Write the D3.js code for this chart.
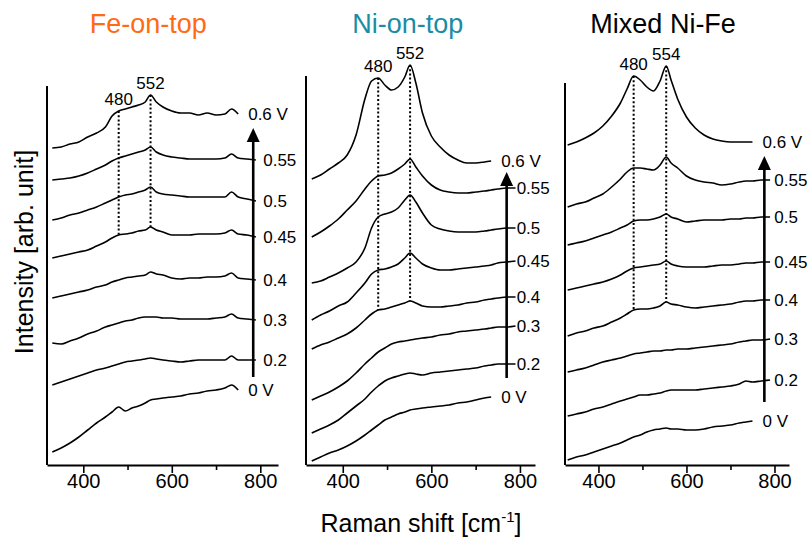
<!DOCTYPE html>
<html>
<head>
<meta charset="utf-8">
<script src="https://cdn.jsdelivr.net/npm/d3@7"></script>
<style>
  body { margin: 0; background: #fff; }
  svg { display: block; }
  text { font-family: "Liberation Sans", Arial, sans-serif; fill: #000; }
</style>
</head>
<body>
<svg id="chart" width="811" height="538"></svg>
<script>
// ---- data -------------------------------------------------------------
// Raman shift sampling points (cm^-1)
const shiftFe  = [330,350,370,390,410,430,450,465,480,495,510,525,540,552,565,580,600,620,640,660,680,700,720,735,750,770,790];
const shiftNi  = [330,350,370,390,410,430,450,465,480,495,510,525,540,552,565,580,600,620,640,660,680,700,720,735,750,770,790];
const shiftMix = [330,350,370,390,410,430,450,465,480,495,510,525,540,554,565,580,600,620,640,660,680,700,720,735,750,770,790];

// applied potential of each spectrum, top to bottom
const potentials = ["0.6 V", "0.55", "0.5", "0.45", "0.4", "0.3", "0.2", "0 V"];

const sampleNames = ["Fe-on-top", "Ni-on-top", "Mixed Ni-Fe"];

// band positions marked on each sample (cm^-1)
const peaksFe  = [480, 552];
const peaksNi  = [480, 552];
const peaksMix = [480, 554];

// stacked intensities (arb. unit), one row per potential, top to bottom
const feOnTop = [
  [317,318,321,323,328,332,338,349,354,356,358,360,363,370,363,358,354,352,352,350,352,350,351,356,351,null,null],
  [285,286,287,289,292,296,300,304,307,309,311,313,315,318,313,310,308,307,306,306,306,306,307,311,307,306,305],
  [245,247,250,252,255,258,262,265,268,270,271,273,275,278,273,271,270,269,268,268,268,268,268,273,268,266,264],
  [207,209,211,213,215,219,223,227,230,231,232,234,235,238,235,233,230,230,230,231,231,231,232,235,231,230,228],
  [167,169,171,173,175,178,180,183,185,187,188,189,190,193,191,190,187,186,187,187,188,188,189,192,187,186,185],
  [122,121,124,127,131,134,138,140,142,144,145,147,148,148,148,147,147,146,146,146,146,147,148,151,147,146,145],
  [80,83,86,89,92,95,97,99,101,103,104,105,106,107,106,105,104,103,104,105,105,105,105,109,105,105,105],
  [13,17,22,28,35,42,48,53,58,54,57,59,62,65,66,67,68,69,71,72,74,75,77,80,75,null,null]
];

const niOnTop = [
  [286,290,296,302,310,330,366,384,387,380,375,378,388,400,382,352,329,318,310,305,302,302,303,304,null,null,null],
  [228,233,239,246,255,264,276,284,289,290,292,296,301,306,298,289,280,275,273,272,272,273,274,275,276,277,277],
  [182,184,188,192,197,203,217,237,248,251,253,257,265,270,263,252,240,236,234,233,233,233,234,235,236,237,237],
  [145,150,154,159,163,172,182,191,195,196,198,201,207,212,207,201,197,195,195,196,197,198,199,200,202,203,204],
  [116,120,123,127,131,137,145,151,155,156,158,160,162,164,162,159,158,158,159,160,162,163,165,166,167,168,168],
  [65,69,73,78,84,92,101,107,113,117,121,123,124,125,126,127,128,130,131,133,134,135,136,137,138,138,139],
  [32,36,40,45,52,59,66,73,79,84,87,89,91,92,91,90,92,93,94,95,96,97,99,100,101,101,101],
  [4,8,12,15,19,24,30,35,40,45,48,51,53,55,56,57,58,59,60,62,63,65,67,68,null,null,null]
];

const mixedNiFe = [
  [320,323,327,332,339,349,362,376,389,385,378,374,384,399,385,366,348,337,330,326,324,323,323,323,323,null,null],
  [258,261,263,267,271,278,286,293,297,297,296,295,300,308,302,297,289,285,283,282,280,281,283,284,284,285,285],
  [220,222,224,227,230,233,237,240,244,245,245,246,248,251,248,246,243,244,245,245,245,246,246,247,247,248,248],
  [175,177,179,181,183,186,190,194,197,198,199,200,201,204,201,199,198,198,198,199,200,200,201,202,202,203,203],
  [129,132,134,137,139,143,147,151,155,156,156,157,159,163,161,160,158,157,158,159,160,161,163,164,164,165,165],
  [93,95,97,100,103,105,107,109,111,112,113,114,114,115,115,116,116,117,118,119,120,121,123,124,125,125,126],
  [49,51,53,56,58,61,64,66,68,70,70,71,72,74,75,75,75,75,76,77,78,79,81,84,83,84,85],
  [5,8,10,13,16,19,22,25,28,30,33,35,36,37,36,36,35,35,36,38,39,40,42,43,44,null,null]
];

const majorTicks = [400, 600, 800];
const minorTicks = [500, 700];

// ---- layout -----------------------------------------------------------
const svg = d3.select("#chart");
const y = d3.scaleLinear().domain([0, 400]).range([465, 65]);

const panels = [
  { name: sampleNames[0], color: "#FF6A13", shifts: shiftFe,  spectra: feOnTop,   peaks: peaksFe,
    domain: [318, 840], range: [47, 278],  axisTop: 379, arrow: { at: 784, from: 88, to: 337 }, dropTo: 3 },
  { name: sampleNames[1], color: "#1A8CA6", shifts: shiftNi,  spectra: niOnTop,   peaks: peaksNi,
    domain: [317, 834], range: [306, 535], axisTop: 389, arrow: { at: 770, from: 87, to: 293 }, dropTo: 4 },
  { name: sampleNames[2], color: "#000000", shifts: shiftMix, spectra: mixedNiFe, peaks: peaksMix,
    domain: [324, 833], range: [565, 789], axisTop: 382, arrow: { at: 777, from: 63, to: 309 }, dropTo: 4 }
];

panels.forEach(p => {
  const x = d3.scaleLinear().domain(p.domain).range(p.range);
  const g = svg.append("g");

  // title
  g.append("text")
    .attr("x", x(547)).attr("y", 33)
    .attr("text-anchor", "middle")
    .attr("font-size", 27)
    .style("fill", p.color)
    .text(p.name);

  // y axis line
  g.append("line")
    .attr("x1", p.range[0]).attr("x2", p.range[0])
    .attr("y1", y(0)).attr("y2", y(p.axisTop))
    .attr("stroke", "#000").attr("stroke-width", 2);

  // x axis: major ticks with labels, minor ticks without
  const major = d3.axisBottom(x).tickValues(majorTicks).tickSize(8).tickSizeOuter(0).tickPadding(1);
  const minor = d3.axisBottom(x).tickValues(minorTicks).tickSize(5).tickSizeOuter(0).tickFormat("");
  const ax = g.append("g").attr("transform", `translate(0,${y(0)})`).call(major);
  ax.select(".domain").attr("stroke-width", 2);
  ax.selectAll(".tick line").attr("stroke-width", 1.6);
  ax.selectAll(".tick text").attr("font-size", 20).attr("font-family", null);
  const axm = g.append("g").attr("transform", `translate(0,${y(0)})`).call(minor);
  axm.select(".domain").remove();
  axm.selectAll(".tick line").attr("stroke-width", 1.6);

  // spectra
  const line = d3.line()
    .defined(d => d[1] !== null)
    .x(d => x(d[0]))
    .y(d => y(d[1]))
    .curve(d3.curveMonotoneX);

  p.spectra.forEach((row, i) => {
    const pts = p.shifts.map((s, k) => [s, row[k]]);
    g.append("path")
      .datum(pts)
      .attr("d", line)
      .attr("fill", "none")
      .attr("stroke", "#000")
      .attr("stroke-width", 1.6)
      .attr("stroke-linejoin", "round");

    // potential label at the end of each spectrum
    const defined = pts.filter(d => d[1] !== null);
    const last = defined[defined.length - 1];
    const endTrace = (i === 0 || i === p.spectra.length - 1);
    g.append("text")
      .attr("x", endTrace ? x(last[0]) + 10 : x(p.arrow.at) + 10)
      .attr("y", y(last[1]))
      .attr("dy", "0.36em")
      .attr("font-size", 17)
      .text(potentials[i]);
  });

  // dotted markers at the band positions + band labels
  p.peaks.forEach(pk => {
    const k = p.shifts.indexOf(pk);
    const top = p.spectra[0][k];
    const bottom = p.spectra[p.dropTo][k];
    g.append("line")
      .attr("x1", x(pk)).attr("x2", x(pk))
      .attr("y1", y(top)).attr("y2", y(bottom))
      .attr("stroke", "#000").attr("stroke-width", 2)
      .attr("stroke-dasharray", "2,2.2");
    g.append("text")
      .attr("x", x(pk)).attr("y", y(top) - 6)
      .attr("text-anchor", "middle")
      .attr("font-size", 17)
      .text(pk);
  });

  // potential sweep arrow
  const ax0 = x(p.arrow.at);
  g.append("line")
    .attr("x1", ax0).attr("x2", ax0)
    .attr("y1", y(p.arrow.from)).attr("y2", y(p.arrow.to) + 10)
    .attr("stroke", "#000").attr("stroke-width", 2.6);
  g.append("path")
    .attr("d", `M${ax0},${y(p.arrow.to)} L${ax0 - 6.5},${y(p.arrow.to) + 14} L${ax0 + 6.5},${y(p.arrow.to) + 14} Z`)
    .attr("fill", "#000");
});

// shared axis titles
svg.append("text")
  .attr("transform", "translate(33,252) rotate(-90)")
  .attr("text-anchor", "middle")
  .attr("font-size", 25)
  .text("Intensity [arb. unit]");

const xt = svg.append("text")
  .attr("x", 421).attr("y", 532)
  .attr("text-anchor", "middle")
  .attr("font-size", 25);
xt.append("tspan").text("Raman shift [cm");
xt.append("tspan").attr("font-size", 15).attr("dy", -10).text("-1");
xt.append("tspan").attr("dy", 10).text("]");
</script>
</body>
</html>
